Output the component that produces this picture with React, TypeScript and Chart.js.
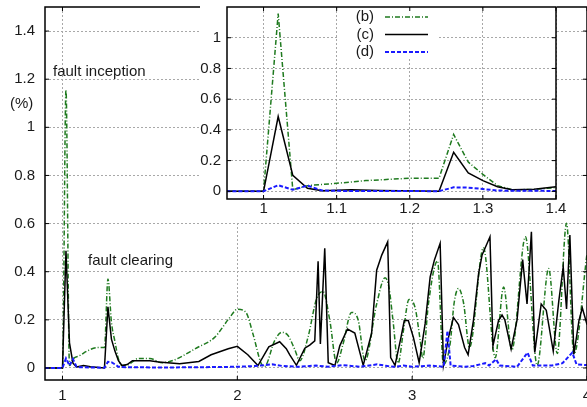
import React, { useEffect, useRef } from "react";
import { Chart, registerables } from "chart.js";

Chart.register(...registerables);

const FONT_FAMILY = "'Liberation Sans', Arial, Helvetica, sans-serif";
const TEXT_COLOR = "#1a1a1a";
const GRID_COLOR = "#a8a8a8";

const SERIES_NAMES = ["(b)", "(c)", "(d)"];
const SERIES_COLORS = ["#1f7a1f", "#000000", "#1a1aff"];

// series (b) – green dash-dot
const bX = [0.9, 1.0, 1.02, 1.04, 1.06, 1.1, 1.14, 1.2, 1.24, 1.26, 1.28, 1.3, 1.32, 1.34, 1.37, 1.4, 1.43, 1.5, 1.57, 1.78, 1.87, 1.955, 2.0, 2.05, 2.09, 2.137, 2.156, 2.213, 2.255, 2.29, 2.328, 2.357, 2.405, 2.453, 2.49, 2.529, 2.568, 2.605, 2.653, 2.691, 2.73, 2.797, 2.845, 2.867, 2.89, 2.92, 2.95, 2.982, 3.017, 3.045, 3.061, 3.093, 3.145, 3.179, 3.217, 3.24, 3.265, 3.294, 3.328, 3.408, 3.475, 3.523, 3.57, 3.648, 3.715, 3.781, 3.83, 3.883, 3.925, 4.0];
const bY = [0, 0, 1.157, 0.01, 0.037, 0.052, 0.07, 0.085, 0.085, 0.37, 0.19, 0.11, 0.037, 0.01, 0.012, 0.025, 0.039, 0.039, 0.022, 0.088, 0.127, 0.208, 0.244, 0.23, 0.14, 0.018, 0.007, 0.113, 0.148, 0.135, 0.078, 0.03, 0.13, 0.287, 0.318, 0.197, 0.02, 0.1, 0.231, 0.2, 0.03, 0.266, 0.375, 0.336, 0.2, 0.02, 0.155, 0.285, 0.25, 0.12, 0.04, 0.266, 0.445, 0.015, 0.1, 0.27, 0.33, 0.27, 0.085, 0.5, 0.043, 0.336, 0.075, 0.545, 0.011, 0.413, 0.06, 0.601, 0.057, 0.475];

// series (c) – black solid
const cX = [0.9, 1.0, 1.02, 1.04, 1.06, 1.08, 1.12, 1.16, 1.24, 1.26, 1.28, 1.3, 1.32, 1.34, 1.37, 1.4, 1.5, 1.55, 1.67, 1.78, 1.85, 1.948, 2.0, 2.06, 2.118, 2.18, 2.242, 2.28, 2.3, 2.338, 2.386, 2.414, 2.443, 2.462, 2.475, 2.5, 2.52, 2.558, 2.586, 2.63, 2.672, 2.72, 2.768, 2.797, 2.826, 2.86, 2.877, 2.902, 2.936, 2.955, 2.978, 3.007, 3.04, 3.074, 3.103, 3.127, 3.16, 3.179, 3.208, 3.236, 3.265, 3.3, 3.32, 3.351, 3.38, 3.4, 3.445, 3.462, 3.494, 3.514, 3.53, 3.566, 3.6, 3.632, 3.657, 3.682, 3.701, 3.738, 3.767, 3.807, 3.839, 3.864, 3.883, 3.902, 3.925, 3.954, 3.973, 4.0];
const cY = [0, 0, 0.487, 0.104, 0.02, 0.004, 0.01, 0.005, 0, 0.254, 0.12, 0.07, 0.03, 0.01, 0.014, 0.03, 0.03, 0.025, 0.018, 0.027, 0.055, 0.08, 0.09, 0.055, 0.01, 0.088, 0.109, 0.08, 0.054, 0.011, 0.082, 0.095, 0.113, 0.443, 0.1, 0.497, 0.022, 0.01, 0.092, 0.162, 0.145, 0.011, 0.144, 0.406, 0.469, 0.524, 0.043, 0.011, 0.127, 0.197, 0.197, 0.127, 0.022, 0.183, 0.378, 0.448, 0.518, 0.012, 0.127, 0.21, 0.18, 0.085, 0.055, 0.2, 0.392, 0.47, 0.545, 0.092, 0.197, 0.22, 0.2, 0.078, 0.2, 0.45, 0.266, 0.566, 0.064, 0.266, 0.24, 0.07, 0.28, 0.42, 0.245, 0.552, 0.057, 0.197, 0.25, 0.18];

// series (d) – blue dashed
const dX = [0.9, 1.0, 1.02, 1.04, 1.06, 1.08, 1.1, 1.24, 1.26, 1.28, 1.3, 1.32, 1.36, 1.6, 1.9, 2.0, 2.1, 2.2, 2.26, 2.35, 2.45, 2.52, 2.6, 2.7, 2.8, 2.86, 2.9, 2.95, 3.0, 3.1, 3.18, 3.202, 3.22, 3.3, 3.35, 3.418, 3.44, 3.48, 3.5, 3.6, 3.66, 3.69, 3.8, 3.86, 3.916, 3.94, 4.0];
const dY = [0, 0, 0.04, 0.01, 0.037, 0.005, 0.003, 0.001, 0.026, 0.024, 0.015, 0.005, 0.003, 0.002, 0.004, 0.005, 0.008, 0.015, 0.008, 0.005, 0.01, 0.005, 0.012, 0.005, 0.015, 0.008, 0.005, 0.01, 0.005, 0.01, 0.005, 0.155, 0.01, 0.005, 0.008, 0.02, 0.01, 0.036, 0.01, 0.005, 0.064, 0.01, 0.01, 0.02, 0.064, 0.015, 0.012];

const MAIN_X_TICKS = [1, 2, 3, 4];
const MAIN_X_LABELS = ["1", "2", "3", "4"];
const MAIN_Y_TICKS = [0, 0.2, 0.4, 0.6, 0.8, 1, 1.2, 1.4];
const MAIN_Y_LABELS = ["0", "0.2", "0.4", "0.6", "0.8", "1", "1.2", "1.4"];
const INSET_X_TICKS = [1, 1.1, 1.2, 1.3, 1.4];
const INSET_X_LABELS = ["1", "1.1", "1.2", "1.3", "1.4"];
const INSET_Y_TICKS = [0, 0.2, 0.4, 0.6, 0.8, 1];
const INSET_Y_LABELS = ["0", "0.2", "0.4", "0.6", "0.8", "1"];

const Y_UNIT = "(%)";
const NOTE_INCEPTION = "fault inception";
const NOTE_CLEARING = "fault clearing";

const FONT = { family: FONT_FAMILY, size: 15 };

function pts(xs: number[], ys: number[]) {
  return xs.map((x, i) => ({ x, y: ys[i] }));
}

function makeDatasets(smooth: boolean) {
  return [
    {
      label: SERIES_NAMES[0],
      data: pts(bX, bY),
      borderColor: SERIES_COLORS[0],
      borderWidth: 1.5,
      borderDash: [5, 2, 1, 2],
      cubicInterpolationMode: smooth ? "monotone" : "default",
      pointRadius: 0,
      fill: false,
      order: 3,
    },
    {
      label: SERIES_NAMES[1],
      data: pts(cX, cY),
      borderColor: SERIES_COLORS[1],
      borderWidth: 1.5,
      pointRadius: 0,
      fill: false,
      order: 2,
    },
    {
      label: SERIES_NAMES[2],
      data: pts(dX, dY),
      borderColor: SERIES_COLORS[2],
      borderWidth: 2,
      borderDash: [4, 2],
      pointRadius: 0,
      fill: false,
      order: 1,
    },
  ];
}

function axis(min: number, max: number, ticks: number[], labels: string[], size: number, padding: number, isX: boolean) {
  return {
    type: "linear",
    min,
    max,
    afterBuildTicks: (s: any) => {
      s.ticks = ticks.map((v) => ({ value: v }));
    },
    afterFit: (s: any) => {
      if (isX) s.height = size;
      else s.width = size;
      s.paddingLeft = 0;
      s.paddingRight = 0;
      s.paddingTop = 0;
      s.paddingBottom = 0;
    },
    grid: { color: GRID_COLOR, lineWidth: 1, drawTicks: false },
    border: { display: false, dash: [2, 2] },
    ticks: {
      padding,
      color: TEXT_COLOR,
      font: FONT,
      autoSkip: false,
      maxRotation: 0,
      callback: (v: number) => {
        const i = ticks.indexOf(v);
        return i >= 0 ? labels[i] : "";
      },
    },
  };
}

const framePlugin = (tickLen: number) => ({
  id: "frame",
  afterDraw(chart: any) {
    const { ctx, chartArea: a, scales } = chart;
    ctx.save();
    ctx.setLineDash([]);
    ctx.strokeStyle = "#000";
    ctx.lineWidth = 1;
    ctx.beginPath();
    for (const t of scales.x.ticks) {
      const px = scales.x.getPixelForValue(t.value);
      ctx.moveTo(px, a.bottom);
      ctx.lineTo(px, a.bottom - tickLen);
      ctx.moveTo(px, a.top);
      ctx.lineTo(px, a.top + tickLen);
    }
    for (const t of scales.y.ticks) {
      const py = scales.y.getPixelForValue(t.value);
      ctx.moveTo(a.left, py);
      ctx.lineTo(a.left + tickLen, py);
      ctx.moveTo(a.right, py);
      ctx.lineTo(a.right - tickLen, py);
    }
    ctx.stroke();
    ctx.lineWidth = 1.5;
    ctx.strokeRect(a.left, a.top, a.right - a.left, a.bottom - a.top);
    ctx.restore();
  },
});

const notesPlugin = {
  id: "notes",
  afterDraw(chart: any) {
    const { ctx } = chart;
    ctx.save();
    ctx.fillStyle = TEXT_COLOR;
    ctx.font = `15px ${FONT_FAMILY}`;
    ctx.textBaseline = "middle";
    ctx.textAlign = "left";
    ctx.fillText(NOTE_INCEPTION, 53, 72);
    ctx.fillText(NOTE_CLEARING, 88, 261);
    ctx.fillText(Y_UNIT, 10, 104);
    ctx.restore();
  },
};

// white backing for the inset (plot + its tick labels), leaving the rest transparent
const insetBackPlugin = {
  id: "insetBack",
  beforeDraw(chart: any) {
    const { ctx } = chart;
    ctx.save();
    ctx.fillStyle = "#fff";
    ctx.fillRect(0, 0, 357, 221);
    ctx.restore();
  },
};

const keyPlugin = {
  id: "key",
  afterDatasetsDraw(chart: any) {
    const { ctx } = chart;
    ctx.save();
    ctx.fillStyle = "#fff";
    ctx.fillRect(138, 8, 99, 49);
    ctx.font = `15px ${FONT_FAMILY}`;
    ctx.textBaseline = "middle";
    ctx.textAlign = "right";
    chart.data.datasets.forEach((ds: any, i: number) => {
      const y = 17 + i * 17.5;
      ctx.fillStyle = TEXT_COLOR;
      ctx.fillText(ds.label, 174, y);
      ctx.strokeStyle = ds.borderColor;
      ctx.lineWidth = ds.borderWidth;
      ctx.setLineDash(ds.borderDash || []);
      ctx.beginPath();
      ctx.moveTo(185, y);
      ctx.lineTo(228, y);
      ctx.stroke();
    });
    ctx.restore();
  },
};

export default function App() {
  const mainRef = useRef<HTMLCanvasElement>(null);
  const insetRef = useRef<HTMLCanvasElement>(null);

  useEffect(() => {
    const main = new Chart(mainRef.current as HTMLCanvasElement, {
      type: "line",
      data: { datasets: makeDatasets(true) as any },
      options: {
        responsive: false,
        maintainAspectRatio: false,
        animation: false,
        devicePixelRatio: 1,
        events: [],
        layout: { padding: { top: 7, right: 0, left: 0, bottom: 0 } },
        plugins: { legend: { display: false }, tooltip: { enabled: false } },
        scales: {
          x: axis(0.9, 4, MAIN_X_TICKS, MAIN_X_LABELS, 27, 7, true),
          y: axis(-0.05, 1.5, MAIN_Y_TICKS, MAIN_Y_LABELS, 45, 10, false),
        } as any,
      },
      plugins: [framePlugin(4), notesPlugin],
    });
    const inset = new Chart(insetRef.current as HTMLCanvasElement, {
      type: "line",
      data: { datasets: makeDatasets(false) as any },
      options: {
        responsive: false,
        maintainAspectRatio: false,
        animation: false,
        devicePixelRatio: 1,
        events: [],
        layout: { padding: { top: 7, right: 24, left: 0, bottom: 0 } },
        plugins: { legend: { display: false }, tooltip: { enabled: false } },
        scales: {
          x: axis(0.95, 1.4, INSET_X_TICKS, INSET_X_LABELS, 22, 1, true),
          y: axis(-0.05, 1.2, INSET_Y_TICKS, INSET_Y_LABELS, 27, 6, false),
        } as any,
      },
      plugins: [insetBackPlugin, framePlugin(4), keyPlugin],
    });
    return () => {
      main.destroy();
      inset.destroy();
    };
  }, []);

  return (
    <div style={{ position: "fixed", left: 0, top: 0, width: 587, height: 407, background: "#fff", overflow: "hidden" }}>
      <canvas ref={mainRef} width={587} height={407} style={{ position: "absolute", left: 0, top: 0, display: "block" }} />
      <canvas ref={insetRef} width={380} height={221} style={{ position: "absolute", left: 200, top: 0, display: "block" }} />
    </div>
  );
}
